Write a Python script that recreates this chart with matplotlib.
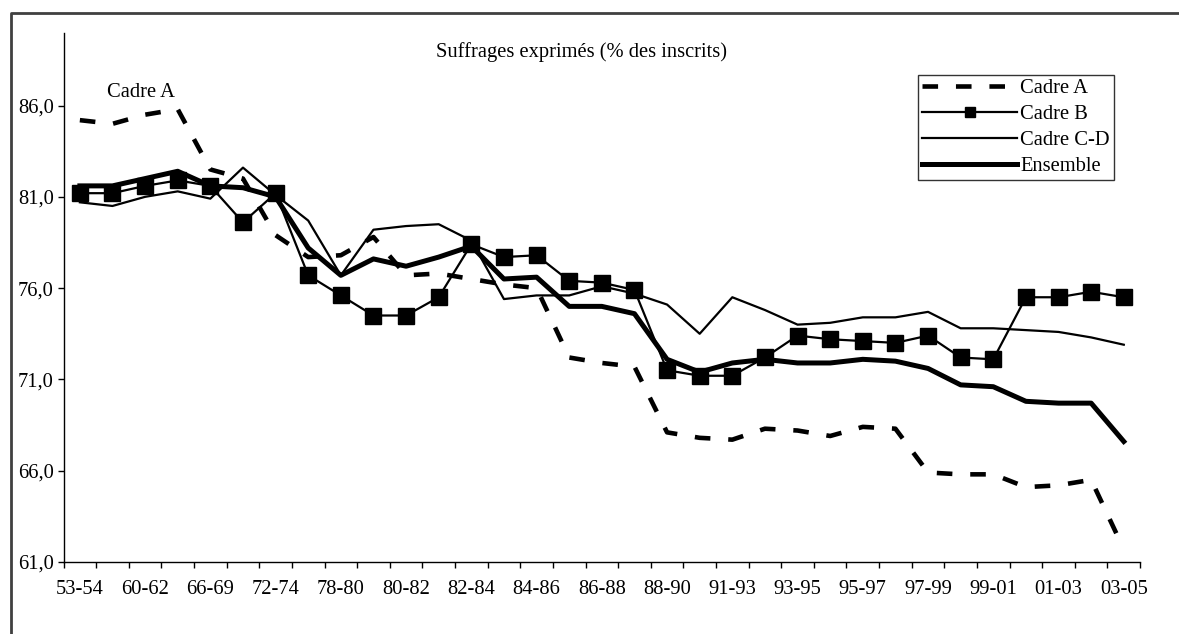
import numpy as np
import matplotlib
matplotlib.use("Agg")
from matplotlib import pyplot as plt
from matplotlib.lines import Line2D

plt.rcParams['font.family'] = ['Liberation Serif', 'DejaVu Serif']

# Etiquettes visibles (une categorie sur deux)
etiquettes = ['53-54', '60-62', '66-69', '72-74', '78-80', '80-82', '82-84', '84-86',
              '86-88', '88-90', '91-93', '93-95', '95-97', '97-99', '99-01', '01-03', '03-05']

# Suffrages exprimes (% des inscrits), 33 periodes
cadre_a = [85.2, 85.0, 85.5, 85.8, 82.5, 82.0, 78.9, 77.7, 77.8, 78.8, 76.7, 76.8, 76.5,
           76.2, 76.0, 72.2, 71.9, 71.7, 68.1, 67.8, 67.7, 68.3, 68.2, 67.9, 68.4, 68.3,
           65.9, 65.8, 65.8, 65.1, 65.2, 65.5, 61.7]
cadre_b = [81.2, 81.2, 81.6, 81.9, 81.6, 79.6, 81.2, 76.7, 75.6, 74.5, 74.5, 75.5, 78.4,
           77.7, 77.8, 76.4, 76.3, 75.9, 71.5, 71.2, 71.2, 72.2, 73.4, 73.2, 73.1, 73.0,
           73.4, 72.2, 72.1, 75.5, 75.5, 75.8, 75.5]
cadre_cd = [80.7, 80.5, 81.0, 81.3, 80.9, 82.6, 81.1, 79.7, 76.7, 79.2, 79.4, 79.5, 78.6,
            75.4, 75.6, 75.6, 76.1, 75.7, 75.1, 73.5, 75.5, 74.8, 74.0, 74.1, 74.4, 74.4,
            74.7, 73.8, 73.8, 73.7, 73.6, 73.3, 72.9]
ensemble = [81.6, 81.6, 82.0, 82.4, 81.6, 81.5, 81.0, 78.2, 76.7, 77.6, 77.2, 77.7, 78.3,
            76.5, 76.6, 75.0, 75.0, 74.6, 72.1, 71.4, 71.9, 72.1, 71.9, 71.9, 72.1, 72.0,
            71.6, 70.7, 70.6, 69.8, 69.7, 69.7, 67.6]

x = np.arange(len(ensemble))

fig = plt.figure(figsize=(11.79, 6.34), dpi=100)
ax = fig.add_axes([0.0539, 0.1136, 0.9131, 0.8351])

ax.plot(x, cadre_a, color='black', lw=3.3, linestyle=(0, (3.4, 3.9)), label='Cadre A')
ax.plot(x, cadre_b, color='black', lw=1.6, marker='s', markersize=11, label='Cadre B')
ax.plot(x, cadre_cd, color='black', lw=1.6, label='Cadre C-D')
ax.plot(x, ensemble, color='black', lw=3.6, label='Ensemble')

ax.set_xlim(-0.5, len(x) - 0.5)
ax.set_ylim(61, 90)
ax.set_yticks(np.arange(61, 87, 5))
ax.set_yticklabels([f"{v:.1f}".replace('.', ',') for v in np.arange(61, 87, 5)])

# graduations entre les categories, libelles une fois sur deux
ax.set_xticks(np.arange(0, len(x), 2))
ax.set_xticklabels(etiquettes)
ax.set_xticks(np.arange(-0.5, len(x)), minor=True)
ax.tick_params(axis='x', which='major', length=0, pad=13, labelsize=14.8)
ax.tick_params(axis='x', which='minor', length=4, width=1, direction='out')
ax.tick_params(axis='y', length=4, width=1, pad=3, labelsize=14.8)

for s in ['top', 'right']:
    ax.spines[s].set_visible(False)
for s in ['left', 'bottom']:
    ax.spines[s].set_color('black')
    ax.spines[s].set_linewidth(1)

ax.text(1.88, 86.7, 'Cadre A', fontsize=14.8, ha='center', va='center')
fig.text(0.4936, 0.918, 'Suffrages exprimés (% des inscrits)', fontsize=14.8,
         ha='center', va='center')

leg = ax.legend(loc='upper left', bbox_to_anchor=(0.794, 0.92), borderaxespad=0,
                fontsize=14.8, frameon=True, fancybox=False, handlelength=4.6,
                handletextpad=0.15, borderpad=0.2, labelspacing=0.32, markerscale=0.6)
leg.get_frame().set_edgecolor('black')
leg.get_frame().set_linewidth(1)

# cadre du graphique (bords gauche et haut visibles)
fx = 10.5 / 1179
fy = 1 - 12.7 / 634
fig.add_artist(Line2D([fx, fx, 1], [0, fy, fy], transform=fig.transFigure,
                      color='#404040', lw=2))

fig.savefig('out.png', dpi=100)
